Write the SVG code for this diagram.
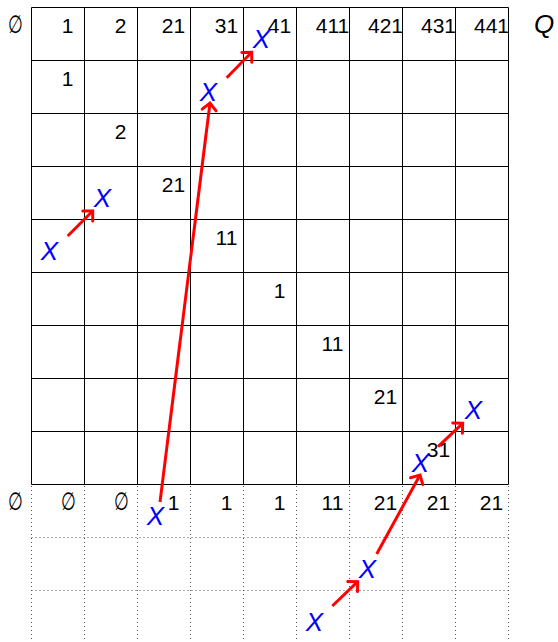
<svg xmlns="http://www.w3.org/2000/svg" width="558" height="642" viewBox="0 0 558 642">
<style>
.grid{stroke:#000;stroke-width:1;fill:none}
.dot{stroke:#555;stroke-width:1;stroke-dasharray:1 3;fill:none}
.lbl{font-family:"Liberation Sans",Arial,sans-serif;font-size:21px;fill:#000;text-anchor:middle}
.emp{font-family:"DejaVu Sans",sans-serif;font-size:25px;fill:#000;text-anchor:middle}
.x{font-family:"Liberation Sans",Arial,sans-serif;font-size:26px;font-style:italic;fill:#0000ff;text-anchor:middle}
.q{font-family:"Liberation Sans",Arial,sans-serif;font-size:26px;font-style:italic;fill:#000;text-anchor:middle}
.arr{stroke:#ff0000;stroke-width:3;fill:none;marker-end:url(#head)}
</style>
<defs>
<marker id="head" markerUnits="userSpaceOnUse" markerWidth="30" markerHeight="30" refX="0" refY="0" orient="auto" overflow="visible">
<path d="M-7,-7 L0,0 L-7,7" stroke="#ff0000" stroke-width="3" fill="none" stroke-linecap="round" stroke-linejoin="miter"/>
</marker>
</defs>
<g id="grid">
<path class="grid" d="M31.5,7.5V484.5M84.5,7.5V484.5M137.5,7.5V484.5M190.5,7.5V484.5M243.5,7.5V484.5M296.5,7.5V484.5M349.5,7.5V484.5M402.5,7.5V484.5M455.5,7.5V484.5M508.5,7.5V484.5M31.5,7.5H508.5M31.5,60.5H508.5M31.5,113.5H508.5M31.5,166.5H508.5M31.5,219.5H508.5M31.5,272.5H508.5M31.5,325.5H508.5M31.5,378.5H508.5M31.5,431.5H508.5M31.5,484.5H508.5"/>
<path class="dot" d="M31.5,486V642M84.5,486V642M137.5,486V642M190.5,486V642M243.5,486V642M296.5,486V642M349.5,486V642M402.5,486V642M455.5,486V642M508.5,486V642M31.5,537.5H508.5M31.5,590.5H508.5"/>
</g>
<g id="top-labels">
<text class="emp" transform="translate(15.5,32.5) scale(0.68,1)">∅</text>
<text class="lbl" x="67.5" y="32.5">1</text>
<text class="lbl" x="120.5" y="32.5">2</text>
<text class="lbl" x="173.5" y="32.5">21</text>
<text class="lbl" x="226.5" y="32.5">31</text>
<text class="lbl" x="279.5" y="32.5">41</text>
<text class="lbl" x="332.5" y="32.5">411</text>
<text class="lbl" x="385.5" y="32.5">421</text>
<text class="lbl" x="438.5" y="32.5">431</text>
<text class="lbl" x="491.5" y="32.5">441</text>
<text class="q" x="544" y="32.5">Q</text>
</g>
<g id="diag-labels">
<text class="lbl" x="67.5" y="85.5">1</text>
<text class="lbl" x="120.5" y="138.5">2</text>
<text class="lbl" x="173.5" y="191.5">21</text>
<text class="lbl" x="226.5" y="244.5">11</text>
<text class="lbl" x="279.5" y="297.5">1</text>
<text class="lbl" x="332.5" y="350.5">11</text>
<text class="lbl" x="385.5" y="403.5">21</text>
<text class="lbl" x="438.5" y="456.5">31</text>
</g>
<g id="bottom-labels">
<text class="emp" transform="translate(15.5,509.5) scale(0.68,1)">∅</text>
<text class="emp" transform="translate(68.5,509.5) scale(0.68,1)">∅</text>
<text class="emp" transform="translate(121.5,509.5) scale(0.68,1)">∅</text>
<text class="lbl" x="173.5" y="509.5">1</text>
<text class="lbl" x="226.5" y="509.5">1</text>
<text class="lbl" x="279.5" y="509.5">1</text>
<text class="lbl" x="332.5" y="509.5">11</text>
<text class="lbl" x="385.5" y="509.5">21</text>
<text class="lbl" x="438.5" y="509.5">21</text>
<text class="lbl" x="491.5" y="509.5">21</text>
</g>
<g id="connectors">
<line class="arr" x1="67.7" y1="236" x2="92.7" y2="211"/>
<line class="arr" x1="226.7" y1="77.7" x2="251.7" y2="52.3"/>
<line class="arr" x1="160" y1="502" x2="210" y2="103"/>
<line class="arr" x1="438" y1="446.7" x2="462.7" y2="423.3"/>
<line class="arr" x1="332.3" y1="606" x2="357.7" y2="581.7"/>
<line class="arr" x1="376.7" y1="554" x2="420" y2="475"/>
</g>
<g id="xA"><text class="x" x="49.5" y="259.8">X</text></g>
<g id="xB"><text class="x" x="102.5" y="206.8">X</text></g>
<g id="xC"><text class="x" x="208.5" y="100.8">X</text></g>
<g id="xD"><text class="x" x="261.5" y="47.8">X</text></g>
<g id="xE"><text class="x" x="155.5" y="524.8">X</text></g>
<g id="xF"><text class="x" x="420.5" y="471.8">X</text></g>
<g id="xG"><text class="x" x="473.5" y="418.8">X</text></g>
<g id="xH"><text class="x" x="367.5" y="577.8">X</text></g>
<g id="xI"><text class="x" x="314.5" y="630.8">X</text></g>
</svg>
